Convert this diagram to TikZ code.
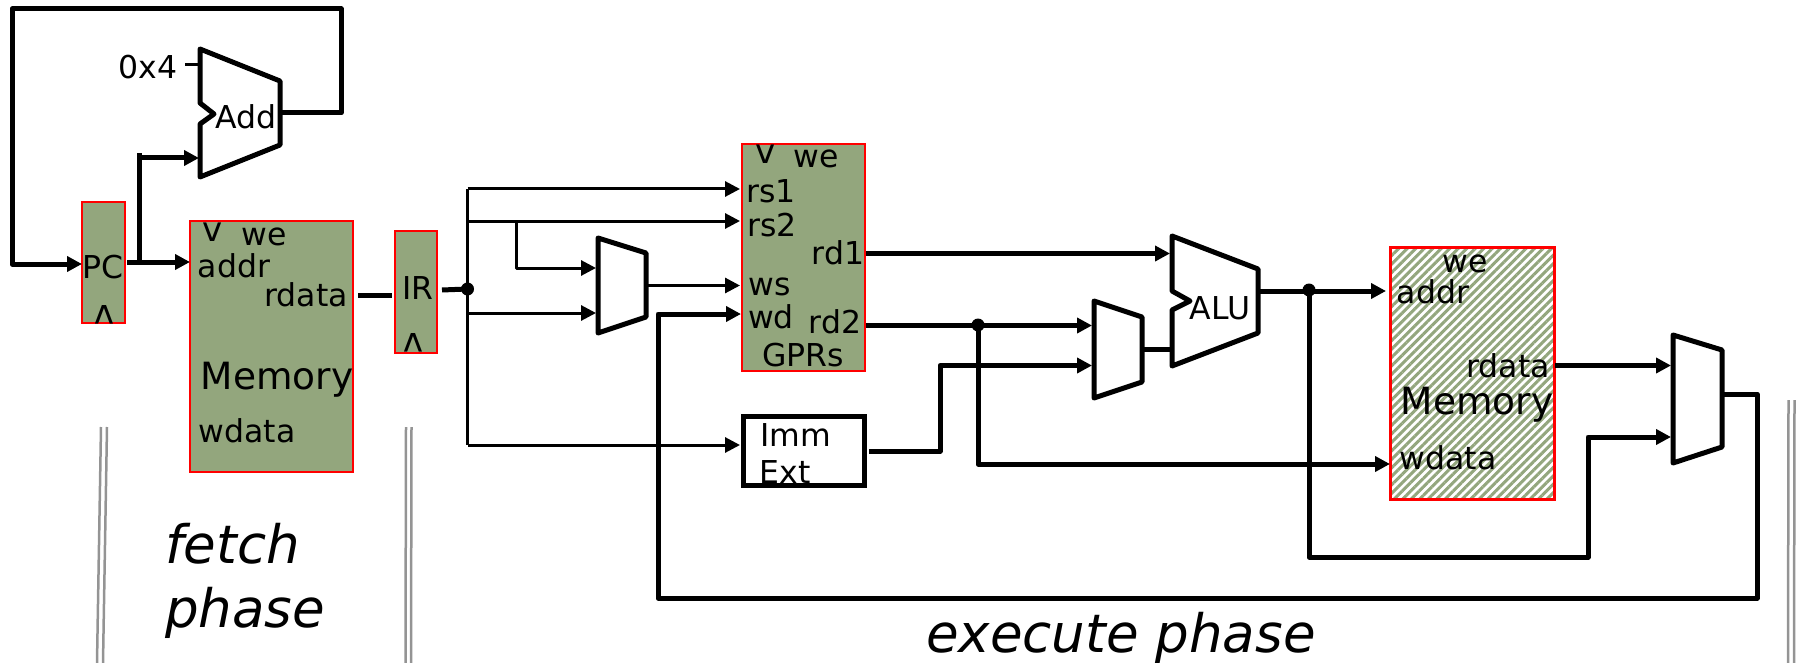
\documentclass[tikz,border=0pt]{standalone}
\usepackage{fontspec}
\setmainfont{DejaVu Sans}
\usetikzlibrary{arrows.meta,patterns.meta,calc}
\definecolor{regfill}{RGB}{147,166,125}
\tikzset{
  x=1pt,y=-1pt,
  wire/.style={line width=5pt,line join=round},
  wirea/.style={wire,-{Triangle[length=15pt,width=15pt]}},
  thin wire/.style={line width=3pt,line join=round},
  thin wirea/.style={thin wire,-{Triangle[length=15pt,width=15pt]}},
  unit/.style={draw=black,line width=5pt,line join=round,fill=white},
  regbox/.style={draw=red,line width=2.7pt,fill=regfill,inner sep=0pt},
  hatchbox/.style={inner sep=0pt,fill=white,
    postaction={pattern={Lines[angle=45,distance=6pt,line width=3pt]},pattern color=regfill}},
  hatchedge/.style={draw=red,line width=2.7pt},
  immbox/.style={draw=black,line width=5pt,fill=white,inner sep=0pt},
  lab/.style={font=\fontsize{31.5}{31.5}\selectfont,anchor=base,inner sep=0pt},
  biglab/.style={font=\fontsize{37.5}{37.5}\selectfont,anchor=base,inner sep=0pt},
  phaselab/.style={font=\fontsize{53}{53}\selectfont\itshape,anchor=base west,inner sep=0pt},
  markv/.style={font=\fontsize{34}{34}\selectfont,anchor=center,inner sep=0pt},
  dot/.style={circle,fill=black,inner sep=0pt,minimum size=13pt},
  stage/.style={draw=black!42,line width=2.5pt},
}
\begin{document}
\begin{tikzpicture}
\useasboundingbox (0,0) rectangle (1798,663);

% stage separators
\draw[stage] (101,427) -- (97,663);
\draw[stage] (107,427) -- (103,663);
\draw[stage] (406,427) -- (405.5,663);
\draw[stage] (411.5,427) -- (411,663);
\draw[stage] (1788.5,400) -- (1788,663);
\draw[stage] (1794.5,400) -- (1794,663);

% boxes
\node[regbox,minimum width=43pt,minimum height=121pt] (pc) at (103.5,262.5) {};
\node[regbox,minimum width=163pt,minimum height=251pt] (imem) at (271.5,346.5) {};
\node[regbox,minimum width=42pt,minimum height=122pt] (ir) at (416,292) {};
\node[regbox,minimum width=123pt,minimum height=227pt] (gprs) at (803.5,257.5) {};
\node[immbox,minimum width=121pt,minimum height=69pt] (imm) at (803.5,451) {};
\node[hatchbox,minimum width=163pt,minimum height=251pt] (dmem) at (1472.5,373.5) {};
\draw[hatchedge] (dmem.north west) rectangle (dmem.south east);

% units
\draw[unit] (200,49) -- (280,81) -- (280,145) -- (200,177) -- (200,124) -- (214,114) -- (200,103) -- cycle;
\draw[unit] (598,238) -- (646,253) -- (646,317) -- (598,333) -- cycle;
\draw[unit] (1094,301) -- (1142,317) -- (1142,382) -- (1094,398) -- cycle;
\draw[unit] (1172,236) -- (1258,269) -- (1258,333) -- (1172,366) -- (1172,310) -- (1190,301) -- (1172,291) -- cycle;
\draw[unit] (1673,335) -- (1722,350) -- (1722,447) -- (1673,463) -- cycle;

% named connector points
\coordinate (addout) at (282,113);
\coordinate (addin) at (199,158);
\coordinate (stub) at (185,65);
\coordinate (stubend) at (200,65);
\coordinate (pcout) at (127,262);
\coordinate (pctap) at (139,262);
\coordinate (pctop) at (139,153);
\coordinate (imemin) at (190,262);
\coordinate (pcin) at (82,264);
\coordinate (rdataout) at (358,295);
\coordinate (irin) at (392,295);
\coordinate (irout) at (442,290);
\coordinate (irtap) at (467.5,289);
\coordinate (rsone) at (740,189);
\coordinate (rstwo) at (740,221);
\coordinate (wsin) at (740,285.5);
\coordinate (wdin) at (741,314);
\coordinate (immin) at (740,445);
\coordinate (muxa) at (596,268);
\coordinate (muxb) at (596,313);
\coordinate (muxout) at (647,285.5);
\coordinate (rdone) at (866,253.5);
\coordinate (alua) at (1170,253.5);
\coordinate (rdtwo) at (866,325.5);
\coordinate (mbtop) at (1092,325.5);
\coordinate (mbbot) at (1092,365.5);
\coordinate (immout) at (869,451);
\coordinate (mbout) at (1142,349);
\coordinate (alub) at (1172,349);
\coordinate (aluout) at (1258,291);
\coordinate (dmaddr) at (1386,291);
\coordinate (dmwdata) at (1390,464);
\coordinate (dmrdata) at (1555,365.5);
\coordinate (mctop) at (1671,365.5);
\coordinate (mcbot) at (1671,437);
\coordinate (mcout) at (1722,394);

% connectors
\draw[wirea] (addout) -- (341,113) -- (341,9) -- (12,9) -- (12,264) -- (pcin);
\draw[thin wire] (stub) -- (stubend);
\draw[wirea] (pcout) -- (imemin);
\draw[wire] (pctap) -- (pctop);
\draw[wirea] (139,158) -- (addin);
\draw[wire] (rdataout) -- (irin);
\draw[wire] (irout) -- (irtap);
\draw[thin wire] (467.5,189) -- (467.5,445);
\draw[thin wirea] (467.5,189) -- (rsone);
\draw[thin wirea] (467.5,221) -- (rstwo);
\draw[thin wirea] (516,221) -- (516,268) -- (muxa);
\draw[thin wirea] (467.5,313) -- (muxb);
\draw[thin wirea] (467.5,445) -- (immin);
\draw[thin wirea] (muxout) -- (wsin);
\draw[wirea] (mcout) -- (1757,394) -- (1757,598) -- (658,598) -- (658,314) -- (wdin);
\draw[wirea] (rdone) -- (alua);
\draw[wirea] (rdtwo) -- (mbtop);
\draw[wirea] (immout) -- (940,451) -- (940,365.5) -- (mbbot);
\draw[wirea] (978,325.5) -- (978,464) -- (dmwdata);
\draw[wire] (mbout) -- (alub);
\draw[wirea] (aluout) -- (dmaddr);
\draw[wirea] (1309,291) -- (1309,557) -- (1588,557) -- (1588,437) -- (mcbot);
\draw[wirea] (dmrdata) -- (mctop);

% junctions
\node[dot] (j1) at (irtap) {};
\node[dot] (j2) at (978,325) {};
\node[dot] (j3) at (1309,290) {};

% labels
\node[lab] (l0x) at (148,79) {0x4};
\node[lab] (ladd) at (246,129) {Add};
\node[lab] (lpc) at (103,278) {PC};
\node[markv,rotate=180] (mpc) at (104,315) {v};
\node[markv] (mim) at (213,232.5) {v};
\node[lab] (lwe1) at (264,245) {we};
\node[lab] (laddr1) at (234,277) {addr};
\node[lab] (lrd1) at (306,306) {rdata};
\node[biglab] (lm1) at (277,389) {Memory};
\node[lab] (lwd1) at (247,442) {wdata};
\node[lab] (lir) at (418,299) {IR};
\node[markv,rotate=180] (mir) at (413,343) {v};
\node[markv] (mgp) at (766,154) {v};
\node[lab] (lweg) at (816,168) {we};
\node[lab] (lrs1) at (771,203) {rs1};
\node[lab] (lrs2) at (772,236) {rs2};
\node[lab] (lrdo) at (838,264) {rd1};
\node[lab] (lws) at (770,295) {ws};
\node[lab] (lwdg) at (771,328) {wd};
\node[lab] (lrdt) at (835,333) {rd2};
\node[lab] (lgpr) at (803,366) {GPRs};
\node[lab] (limm) at (796,446) {Imm};
\node[lab] (lext) at (785,483) {Ext};
\node[lab] (lalu) at (1220,319) {ALU};
\node[lab] (lwe2) at (1465,272) {we};
\node[lab] (laddr2) at (1433,303) {addr};
\node[lab] (lrd2) at (1508,377) {rdata};
\node[biglab] (lm2) at (1477,414) {Memory};
\node[lab] (lwd2) at (1448,469) {wdata};
\node[phaselab] (pf) at (165,563) {fetch};
\node[phaselab] (pp) at (165,627) {phase};
\node[phaselab] (pe) at (926,652) {execute phase};
\end{tikzpicture}
\end{document}
